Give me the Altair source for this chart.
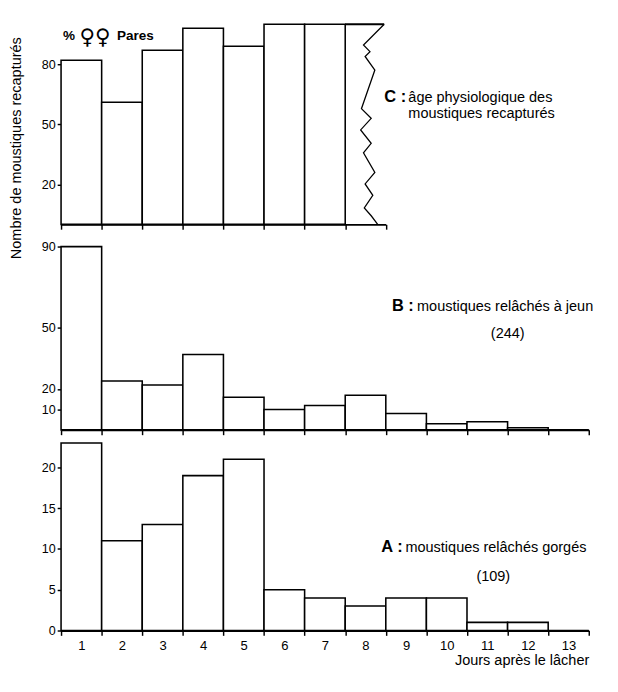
import altair as alt
import pandas as pd

# ---------------- data ----------------
days = list(range(1, 14))
# C: % parous females among recaptured mosquitoes (days 1-7)
pares_days = [1, 2, 3, 4, 5, 6, 7]
pares_pct = [82, 61, 87, 98, 89, 100, 100]
# B: mosquitoes released unfed (total 244)
jeun = [90, 24, 22, 37, 16, 10, 12, 17, 8, 3, 4, 1, 0]
# A: mosquitoes released blood-fed (total 109)
gorges = [23, 11, 13, 19, 21, 5, 4, 3, 4, 4, 1, 1, 0]

# zig-zag "break" drawn after day 7 in panel C (day units, % units)
zig_day = [8.46, 7.95, 8.11, 7.99, 8.23, 7.90, 8.14, 7.88, 8.14, 7.95, 8.23, 7.99, 8.18, 7.97, 8.14, 8.30]
zig_val = [100, 89.6, 86.3, 83.9, 77.1, 57.8, 53.0, 47.2, 40.5, 35.7, 26.0, 20.2, 14.5, 8.2, 4.3, 0]

FONT = "Liberation Sans"
W_ALL = 547
BIN = W_ALL / 13
W_C = BIN * 8


def bars_df(d, v):
    return pd.DataFrame({"x0": [a - 0.5 for a in d], "x1": [a + 0.5 for a in d], "v": v})


def x_axis(n, labels=False):
    if labels:
        return alt.Axis(values=[0.5 + i for i in range(n + 1)], labels=True,
                        labelExpr="datum.value < 13 ? format(datum.value + 0.5, 'd') : ''",
                        labelOffset=BIN / 2, labelFlush=False, labelOverlap=False,
                        labelFontSize=13.5, labelPadding=4, tickSize=5, tickWidth=1.5,
                        domainWidth=2, grid=False, title="Jours après le lâcher",
                        titleAnchor="end", titleFontWeight="normal", titleFontSize=15,
                        titlePadding=1, titleFont=FONT)
    return alt.Axis(values=[0.5 + i for i in range(n + 1)], labels=False, tickSize=5,
                    tickWidth=1.5, domainWidth=2, grid=False, title=None)


def y_axis(vals):
    return alt.Axis(values=vals, domain=False, grid=False, title=None, tickSize=4,
                    tickWidth=1.5, labelFontSize=13, labelPadding=2)


def label(text, x, y, size=15, bold=False, align="left", angle=0, font=FONT):
    kw = dict(align=align, baseline="middle", font=font, fontSize=size,
              fontWeight="bold" if bold else "normal")
    if angle:
        kw["angle"] = angle
    return alt.Chart(pd.DataFrame({"t": [text]})).mark_text(**kw).encode(
        text="t:N", x=alt.value(x), y=alt.value(y))


bar_style = dict(fill="white", stroke="black", strokeWidth=1.6)

# ---------------- panel C ----------------
dC = bars_df(pares_days, pares_pct)
xC = alt.X("x0:Q", scale=alt.Scale(domain=[0.5, 8.5], nice=False, zero=False), axis=x_axis(8))
yC = alt.Y("v:Q", scale=alt.Scale(domain=[0, 102.2], nice=False), axis=y_axis([20, 50, 80]))
c_bars = alt.Chart(dC).mark_rect(**bar_style).encode(x=xC, x2="x1:Q", y=yC, y2=alt.datum(0))
dZ = pd.DataFrame({"x0": zig_day, "v": zig_val, "i": list(range(len(zig_day)))})
c_zig = alt.Chart(dZ).mark_line(color="black", strokeWidth=1.3).encode(
    x="x0:Q", y="v:Q", order="i:Q")
dTop = pd.DataFrame({"x0": [7.5], "x1": [zig_day[0]], "v": [100]})
c_top = alt.Chart(dTop).mark_rule(color="black", strokeWidth=2).encode(
    x="x0:Q", x2="x1:Q", y="v:Q")
panelC = alt.layer(
    c_bars, c_top, c_zig,
    label("%", 2, 17, size=14, bold=True),
    label("♀♀", 19, 18, size=22, font="DejaVu Sans"),
    label("Pares", 58, 17, size=14, bold=True),
    label("C :", 335, 80, size=17, bold=True),
    label("âge physiologique des", 360, 80),
    label("moustiques recapturés", 360, 97),
    label("Nombre de moustiques recapturés", -47, 133, size=15, align="center", angle=270),
).properties(width=W_C, height=212)

# ---------------- panel B ----------------
dB = bars_df(days, jeun)
xB = alt.X("x0:Q", scale=alt.Scale(domain=[0.5, 13.5], nice=False, zero=False), axis=x_axis(13))
yB = alt.Y("v:Q", scale=alt.Scale(domain=[0, 96.2], nice=False), axis=y_axis([10, 20, 50, 90]))
b_bars = alt.Chart(dB).mark_rect(**bar_style).encode(x=xB, x2="x1:Q", y=yB, y2=alt.datum(0))
panelB = alt.layer(
    b_bars,
    label("B :", 343, 75, size=17, bold=True),
    label("moustiques relâchés à jeun", 369, 75),
    label("(244)", 463, 103, size=15, align="center"),
).properties(width=W_ALL, height=203)

# ---------------- panel A ----------------
dA = bars_df(days, gorges)
xA = alt.X("x0:Q", scale=alt.Scale(domain=[0.5, 13.5], nice=False, zero=False),
           axis=x_axis(13, labels=True))
yA = alt.Y("v:Q", scale=alt.Scale(domain=[0, 23.43], nice=False), axis=y_axis([0, 5, 10, 15, 20]))
a_bars = alt.Chart(dA).mark_rect(**bar_style).encode(x=xA, x2="x1:Q", y=yA, y2=alt.datum(0))
panelA = alt.layer(
    a_bars,
    label("A :", 332, 112, size=17, bold=True),
    label("moustiques relâchés gorgés", 357, 112),
    label("(109)", 448, 142, size=15, align="center"),
).properties(width=W_ALL, height=198)

chart = alt.vconcat(panelC, panelB, panelA, spacing=10, bounds="flush").properties(
    padding=0).configure_view(stroke=None).configure_axis(
    labelFont=FONT, titleFont=FONT, labelColor="black", titleColor="black",
    tickColor="black", domainColor="black")

chart.save("out.html", embed_options={"renderer": "svg", "actions": False})
